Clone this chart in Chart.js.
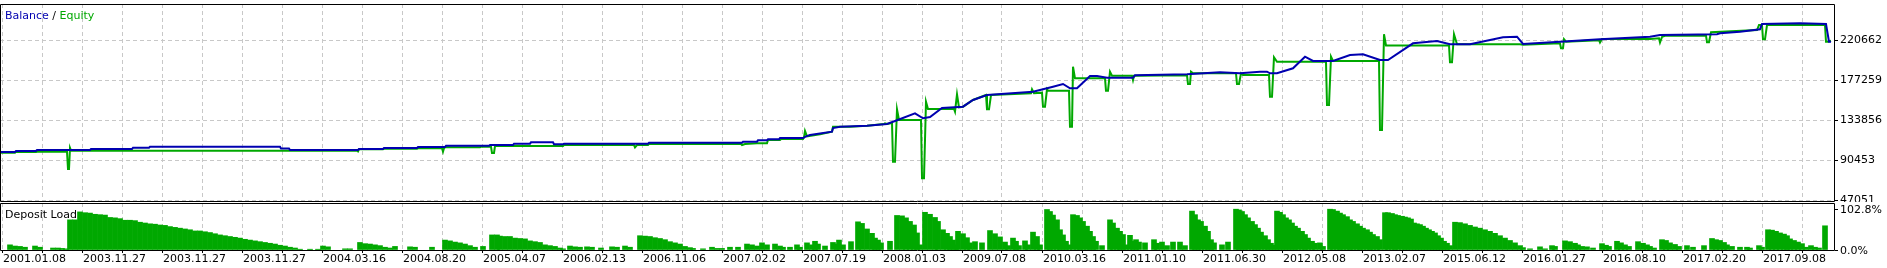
<!DOCTYPE html>
<html>
<head>
<meta charset="utf-8">
<script src="https://cdn.jsdelivr.net/npm/chart.js@4.4.0/dist/chart.umd.min.js"></script>
<style>
    body { margin: 0; background: #fff; }
    #wrap { position: relative; width: 1887px; height: 268px; }
    #mainChart { position: absolute; left: 0; top: 0; }
    #loadChart { position: absolute; left: 0; top: 202px; }
</style>
</head>
<body>
<div id="wrap">
    <canvas id="mainChart" width="1887" height="202"></canvas>
    <canvas id="loadChart" width="1887" height="66"></canvas>
</div>
<script>
// x axis = test step (trade sequence), 0 .. 1835
const STEP_MAX = 1835;

const dateLabels = [
    "2001.01.08", "2003.11.27", "2003.11.27", "2003.11.27", "2004.03.16", "2004.08.20",
    "2005.04.07", "2006.02.13", "2006.11.06", "2007.02.02", "2007.07.19", "2008.01.03",
    "2009.07.08", "2010.03.16", "2011.01.10", "2011.06.30", "2012.05.08", "2013.02.07",
    "2015.06.12", "2016.01.27", "2016.08.10", "2017.02.20", "2017.09.08"
];

const balanceTicks = [47051, 90453, 133856, 177259, 220662];
const loadTicks = [0, 102.8];

const balanceStep = [
    0, 15, 16, 36, 37, 90, 91, 132, 133, 149, 150, 280, 281, 289, 290, 358, 359, 383, 384, 417,
    418, 445, 446, 489, 490, 513, 514, 530, 531, 553, 554, 563, 564, 648, 649, 742, 743, 757, 758, 767,
    768, 779, 780, 803, 806, 810, 820, 832, 833, 840, 867, 887, 895, 915, 923, 930, 942, 963, 973, 987,
    1033, 1053, 1063, 1070, 1077, 1090, 1097, 1107, 1133, 1135, 1187, 1220, 1240, 1260, 1267, 1270, 1277, 1293, 1305, 1313,
    1333, 1350, 1363, 1380, 1388, 1413, 1437, 1450, 1470, 1503, 1517, 1523, 1560, 1600, 1650, 1660, 1717, 1720, 1740, 1760,
    1762, 1800, 1826, 1829, 1831
];
const balanceValue = [
    99134, 99134, 100219, 100219, 101304, 101304, 102390, 102390, 103800, 103800, 104886, 104886, 102932, 102932, 101304, 101304, 102390, 102390, 103475, 103475,
    104560, 104560, 105971, 105971, 106730, 106730, 108141, 108141, 109660, 109660, 107490, 107490, 108141, 108141, 109226, 109226, 110311, 110311, 111830, 111830,
    112915, 112915, 114326, 114326, 116170, 117581, 119209, 121162, 125176, 126587, 127672, 129516, 132772, 141127, 135701, 137112, 146877, 148288, 155558, 160983,
    164564, 169989, 172919, 168253, 168253, 181600, 181600, 179755, 179755, 182359, 183444, 185615, 184530, 186266, 186266, 184530, 184530, 189955, 202542, 197876,
    197876, 204386, 205146, 198961, 198961, 217082, 219578, 216000, 216000, 223597, 224248, 216326, 218818, 221420, 224248, 226088, 226848, 227933, 229670, 232274,
    238023, 238785, 238023, 218818, 218818
];

const equityStep = [
    0, 15, 16, 36, 37, 67, 68, 69, 70, 71, 357, 358, 359, 383, 384, 417, 418, 442, 443, 444,
    445, 480, 481, 491, 492, 494, 495, 563, 564, 634, 635, 637, 648, 649, 741, 742, 745, 757, 767, 768,
    780, 781, 803, 804, 805, 807, 820, 832, 833, 850, 867, 884, 885, 887, 892, 893, 895, 897, 899, 921,
    922, 924, 926, 928, 954, 955, 957, 959, 963, 973, 986, 987, 989, 991, 1031, 1032, 1034, 1042, 1043, 1045,
    1047, 1048, 1069, 1070, 1072, 1073, 1075, 1105, 1106, 1108, 1110, 1112, 1132, 1133, 1134, 1187, 1188, 1190, 1191, 1193,
    1236, 1237, 1239, 1241, 1243, 1269, 1270, 1272, 1274, 1277, 1326, 1327, 1329, 1331, 1333, 1379, 1380, 1382, 1384, 1386,
    1449, 1450, 1452, 1454, 1457, 1520, 1523, 1560, 1561, 1563, 1564, 1566, 1599, 1600, 1602, 1650, 1659, 1660, 1662, 1665,
    1706, 1707, 1709, 1711, 1757, 1759, 1762, 1763, 1765, 1767, 1825, 1826, 1828, 1831
];
const equityValue = [
    98374, 98374, 99134, 99134, 99459, 99459, 80688, 80688, 103475, 100545, 100545, 99785, 102064, 102064, 102715, 102715, 103150, 103150, 99459, 103150,
    104235, 104235, 104886, 104886, 98050, 98050, 105645, 105645, 106730, 106730, 104235, 106730, 106730, 107815, 107815, 106730, 107815, 108575, 108575, 112155,
    112155, 113241, 113241, 115085, 121921, 116170, 118500, 121162, 126587, 126587, 127672, 129516, 130276, 129516, 130602, 88607, 88607, 145431, 133857, 133857,
    70597, 70597, 153712, 145793, 145793, 142864, 161743, 147500, 148288, 155558, 160983, 145431, 145431, 160983, 162828, 167168, 162828, 163500, 148288, 148288,
    167168, 165649, 165649, 126587, 126587, 191690, 179104, 179104, 165649, 165649, 186266, 181925, 181925, 177260, 181925, 182400, 172919, 172919, 186266, 184530,
    184530, 172919, 172919, 184530, 182685, 182685, 159138, 159138, 201891, 197116, 197116, 150133, 150133, 202542, 197876, 197876, 123006, 123006, 226848, 214697,
    214697, 196573, 196573, 226848, 216000, 216000, 215500, 217082, 211659, 211659, 221420, 218818, 220500, 217950, 221745, 221745, 222500, 217950, 224000, 225325,
    225325, 218275, 218275, 229019, 231515, 236934, 236934, 221420, 221420, 236934, 236934, 218818, 218818, 219903
];

// deposit load, percent
const loadStep = [
    10, 15, 20, 25, 35, 40, 53, 58, 62, 66, 70, 75, 80, 85, 90, 95, 100, 105, 110, 115,
    120, 125, 130, 135, 140, 145, 150, 155, 160, 165, 170, 175, 180, 185, 190, 195, 200, 205, 210, 215,
    220, 225, 230, 235, 240, 245, 250, 255, 260, 265, 270, 275, 280, 285, 290, 295, 300, 310, 318, 323,
    328, 345, 350, 360, 365, 370, 375, 380, 385, 390, 395, 410, 415, 432, 445, 450, 455, 460, 465, 470,
    475, 483, 492, 497, 500, 505, 510, 515, 520, 525, 530, 535, 540, 545, 550, 555, 560, 563, 570, 575,
    580, 587, 592, 601, 612, 617, 625, 630, 640, 645, 650, 655, 660, 665, 670, 675, 680, 685, 690, 693,
    703, 712, 717, 722, 730, 738, 747, 752, 757, 762, 767, 775, 780, 783, 790, 797, 800, 807, 812, 815,
    818, 825, 833, 837, 839, 843, 851, 858, 862, 867, 872, 875, 878, 881, 890, 897, 902, 906, 910, 914,
    917, 920, 925, 930, 935, 938, 943, 947, 950, 953, 956, 958, 963, 967, 970, 975, 982, 990, 995, 1000,
    1005, 1008, 1013, 1016, 1019, 1025, 1028, 1033, 1037, 1040, 1047, 1050, 1053, 1057, 1060, 1063, 1066, 1069, 1073, 1077,
    1080, 1083, 1087, 1090, 1093, 1096, 1102, 1110, 1113, 1117, 1120, 1123, 1126, 1130, 1133, 1136, 1139, 1145, 1154, 1157,
    1162, 1167, 1173, 1180, 1185, 1192, 1195, 1198, 1201, 1205, 1208, 1211, 1214, 1222, 1228, 1236, 1239, 1242, 1245, 1248,
    1252, 1255, 1258, 1261, 1265, 1268, 1271, 1274, 1277, 1280, 1283, 1286, 1289, 1292, 1295, 1298, 1302, 1305, 1308, 1312,
    1315, 1320, 1323, 1330, 1333, 1337, 1340, 1343, 1347, 1350, 1353, 1357, 1360, 1363, 1367, 1370, 1373, 1377, 1380, 1385,
    1388, 1392, 1395, 1398, 1402, 1405, 1408, 1411, 1414, 1417, 1420, 1423, 1426, 1429, 1432, 1435, 1438, 1441, 1444, 1447,
    1450, 1455, 1460, 1465, 1470, 1475, 1480, 1485, 1490, 1495, 1500, 1505, 1510, 1515, 1520, 1523, 1530, 1540, 1545, 1552,
    1555, 1565, 1570, 1575, 1578, 1582, 1587, 1593, 1602, 1606, 1609, 1617, 1621, 1625, 1629, 1638, 1643, 1647, 1650, 1654,
    1662, 1666, 1670, 1675, 1679, 1687, 1693, 1704, 1712, 1716, 1720, 1724, 1727, 1732, 1740, 1747, 1750, 1759, 1762, 1768,
    1772, 1776, 1780, 1784, 1787, 1790, 1794, 1798, 1802, 1806, 1811, 1815, 1819, 1825
];
const loadPct = [
    13, 10, 9, 7, 10, 7, 5, 5, 4, 3, 76, 76, 96, 94, 93, 90, 89, 88, 82, 81,
    79, 75, 75, 74, 70, 68, 66, 65, 63, 62, 59, 57, 55, 53, 51, 48, 48, 46, 44, 41,
    38, 36, 34, 32, 30, 27, 25, 23, 21, 19, 17, 15, 12, 10, 7, 5, 2, 2, 2, 10,
    8, 3, 3, 19, 16, 15, 13, 11, 7, 5, 9, 8, 7, 7, 25, 23, 20, 18, 15, 11,
    7, 9, 38, 38, 35, 34, 34, 30, 29, 28, 23, 21, 19, 13, 11, 9, 5, 3, 10, 8,
    7, 8, 7, 5, 8, 7, 10, 7, 36, 35, 34, 31, 29, 26, 21, 18, 15, 9, 6, 4,
    3, 7, 4, 4, 7, 7, 15, 13, 10, 18, 13, 15, 10, 7, 7, 13, 7, 18, 13, 22,
    15, 10, 19, 15, 25, 13, 21, 71, 67, 53, 42, 30, 25, 18, 22, 87, 86, 81, 72, 63,
    43, 13, 95, 90, 82, 72, 51, 42, 34, 25, 13, 47, 41, 31, 18, 21, 18, 49, 41, 33,
    20, 11, 30, 22, 11, 23, 13, 45, 34, 13, 102, 97, 88, 76, 51, 38, 22, 13, 89, 87,
    81, 72, 60, 47, 34, 22, 11, 76, 68, 55, 47, 39, 13, 37, 22, 26, 20, 18, 26, 17,
    20, 11, 20, 20, 11, 98, 89, 76, 72, 60, 47, 26, 18, 13, 20, 102.8, 101, 97, 89, 81,
    72, 64, 55, 45, 36, 26, 17, 12, 98, 95, 89, 81, 76, 68, 60, 55, 47, 39, 30, 22,
    17, 18, 9, 102.8, 102, 98, 93, 89, 84, 76, 72, 66, 60, 55, 51, 45, 39, 34, 26, 94,
    94, 92, 89, 87, 85, 83, 81, 78, 68, 66, 64, 60, 55, 51, 47, 43, 36, 30, 22, 17,
    11, 70, 69, 66, 62, 58, 55, 51, 47, 42, 36, 30, 24, 18, 11, 6, 3, 8, 3, 11,
    9, 23, 21, 17, 13, 9, 8, 5, 16, 12, 9, 22, 18, 13, 9, 21, 17, 13, 9, 5,
    26, 24, 18, 14, 9, 11, 7, 11, 29, 26, 24, 19, 13, 9, 7, 7, 5, 11, 7, 51,
    50, 47, 43, 40, 36, 28, 24, 20, 16, 7, 11, 7, 5, 61
];

const BLUE = "#0000b0";
const GREEN = "#00a800";
const GRID = "#c8c8c8";
const FONT = { family: "DejaVu Sans", size: 11 };

Chart.defaults.font = FONT;
Chart.defaults.color = "#000";

// vertical grid every 40 steps, date label on every second one
const gridSteps = [];
for (let s = 2; s <= 1802; s += 40) gridSteps.push(s);

function pairs(xs, ys) {
    return xs.map((x, i) => ({ x: x, y: ys[i] }));
}

// black frame round the plot area (bottom line sits one row lower in MT style)
const framePlugin = {
    id: "frame",
    afterDraw(chart, args, opts) {
        const { ctx, chartArea: a } = chart;
        ctx.save();
        ctx.strokeStyle = "#000";
        ctx.lineWidth = 1;
        ctx.beginPath();
        ctx.rect(a.left + 0.5, a.top + 0.5, a.right - a.left - 1, a.bottom - a.top + opts.drop);
        ctx.stroke();
        ctx.restore();
    }
};

// coloured caption in the top-left corner
const captionPlugin = {
    id: "caption",
    afterDraw(chart, args, opts) {
        const ctx = chart.ctx;
        ctx.save();
        ctx.font = "11px 'DejaVu Sans'";
        ctx.textBaseline = "alphabetic";
        let x = opts.x;
        opts.parts.forEach(p => {
            ctx.fillStyle = p.color;
            ctx.fillText(p.text, x, opts.y);
            x += ctx.measureText(p.text).width;
        });
        ctx.restore();
    }
};

function noPad(scale) {
    scale.paddingTop = 0;
    scale.paddingBottom = 0;
    scale.paddingLeft = 0;
    scale.paddingRight = 0;
}

// 1. Balance / Equity panel
new Chart(document.getElementById("mainChart"), {
    type: "line",
    data: {
        datasets: [
            { label: "Balance", data: pairs(balanceStep, balanceValue), borderColor: BLUE, borderWidth: 2, pointRadius: 0, tension: 0 },
            { label: "Equity", data: pairs(equityStep, equityValue), borderColor: GREEN, borderWidth: 2, pointRadius: 0, tension: 0 }
        ]
    },
    options: {
        responsive: false,
        animation: false,
        events: [],
        layout: { padding: { top: 4, bottom: 0, left: 0, right: 0 } },
        plugins: {
            legend: { display: false },
            tooltip: { enabled: false },
            frame: { drop: 1 },
            caption: { x: 5, y: 19, parts: [
                { text: "Balance", color: BLUE },
                { text: " / ", color: "#000" },
                { text: "Equity", color: GREEN }
            ] }
        },
        scales: {
            x: {
                type: "linear", min: 0, max: STEP_MAX, offset: false,
                afterBuildTicks: s => { s.ticks = gridSteps.map(v => ({ value: v })); },
                afterFit: s => { s.height = 2; noPad(s); },
                ticks: { display: false },
                grid: { color: GRID, drawTicks: false, offset: false },
                border: { display: false, dash: [4, 3] }
            },
            y: {
                position: "right", min: 47051, max: 259725,
                afterBuildTicks: s => { s.ticks = balanceTicks.map(v => ({ value: v })); },
                afterFit: s => { s.width = 52; noPad(s); },
                ticks: { padding: 2, callback: v => String(v) },
                grid: { color: GRID, tickColor: "#000", tickLength: 3 },
                border: { display: false, dash: [4, 3] }
            }
        }
    },
    plugins: [framePlugin, captionPlugin]
});

// 2. Deposit Load panel
new Chart(document.getElementById("loadChart"), {
    type: "bar",
    data: {
        datasets: [
            { label: "Deposit Load", data: pairs(loadStep, loadPct), backgroundColor: GREEN, borderWidth: 0, barThickness: 5 }
        ]
    },
    options: {
        responsive: false,
        animation: false,
        events: [],
        layout: { padding: { top: 1, bottom: 0, left: 0, right: 0 } },
        plugins: {
            legend: { display: false },
            tooltip: { enabled: false },
            frame: { drop: 0 },
            caption: { x: 5, y: 16, parts: [{ text: "Deposit Load", color: "#000" }] }
        },
        scales: {
            x: {
                type: "linear", min: 0, max: STEP_MAX, offset: false,
                afterBuildTicks: s => { s.ticks = gridSteps.map(v => ({ value: v })); },
                afterFit: s => { s.height = 18; noPad(s); },
                ticks: {
                    autoSkip: false, maxRotation: 0, minRotation: 0, align: "start",
                    padding: 0, labelOffset: 1,
                    callback: (v, i) => (i % 2 === 0 ? dateLabels[i / 2] : "")
                },
                grid: { color: GRID, tickColor: "#000", tickLength: 3, offset: false },
                border: { display: false, dash: [4, 3] }
            },
            y: {
                position: "right", min: 0, max: 118.4,
                afterBuildTicks: s => { s.ticks = loadTicks.map(v => ({ value: v })); },
                afterFit: s => { s.width = 52; noPad(s); },
                ticks: { padding: 2, labelOffset: 1, callback: v => v.toFixed(1) + "%" },
                grid: { drawOnChartArea: false, tickColor: "#000", tickLength: 3 },
                border: { display: false }
            }
        }
    },
    plugins: [framePlugin, captionPlugin]
});
</script>
</body>
</html>
